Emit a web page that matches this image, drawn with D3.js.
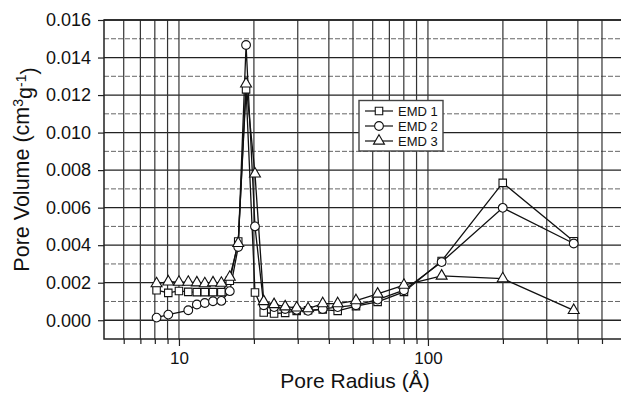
<!DOCTYPE html>
<html>
<head>
<meta charset="utf-8">
<script src="https://cdn.jsdelivr.net/npm/d3@7"></script>
<style>
  html, body { margin: 0; padding: 0; background: #fff; }
  svg { display: block; font-family: "Liberation Sans", Arial, Helvetica, sans-serif; }
</style>
</head>
<body>
<svg id="chart" width="621" height="395"></svg>
<script>
// Pore size distribution (BJH) for three EMD samples
const radius = [8.13, 9.06, 10.0, 10.9, 11.8, 12.7, 13.7, 14.8, 16.0, 17.3, 18.6, 20.2, 21.9, 24.1, 26.7, 29.7, 33.0, 37.8, 43.4, 51.4, 62.8, 80.1, 113.5, 199.7, 385];
const emd1 = [0.0016, 0.00146, 0.00156, 0.00151, 0.0015, 0.0015, 0.0015, 0.0015, 0.0021, 0.0042, 0.0123, 0.00148, 0.00041, 0.00036, 0.00039, 0.0005, 0.00053, 0.00057, 0.0005, 0.00075, 0.00098, 0.00151, 0.00316, 0.00732, 0.00421];
const emd2 = [0.00014, 0.0003, null, 0.00053, 0.00084, 0.00092, 0.00101, 0.00103, 0.00155, 0.0039, 0.01467, 0.0050, 0.0008, 0.0007, 0.0006, 0.00055, 0.0005, 0.0006, 0.0007, 0.0008, 0.0011, 0.0016, 0.0031, 0.00599, 0.00409];
const emd3 = [0.00195, 0.00205, 0.00203, 0.00203, 0.002, 0.00195, 0.002, 0.00198, 0.0023, 0.0041, 0.0126, 0.0078, 0.0010, 0.00084, 0.00072, 0.00066, 0.00062, 0.00089, 0.00089, 0.00105, 0.0014, 0.00187, 0.00236, 0.00222, 0.00053];
const seriesNames = ["EMD 1", "EMD 2", "EMD 3"];
const seriesSymbols = [d3.symbolSquare, d3.symbolCircle, d3.symbolTriangle];

const xTickValues = [10, 100];
const xGridValues = [6, 7, 8, 9, 10, 20, 30, 40, 50, 60, 70, 80, 90, 100, 200, 300, 400, 500];
const yTickValues = [0, 0.002, 0.004, 0.006, 0.008, 0.010, 0.012, 0.014, 0.016];
const yMinorValues = [0.001, 0.003, 0.005, 0.007, 0.009, 0.011, 0.013, 0.015];

const svg = d3.select("#chart");
const x = d3.scaleLog().domain([5, 600]).range([104, 621.7]);
const y = d3.scaleLinear().domain([-0.001, 0.016]).range([339, 20]);
const plotLeft = x.range()[0], plotRight = x.range()[1];
const plotTop = y.range()[1], plotBottom = y.range()[0];

// grid
const grid = svg.append("g");
grid.selectAll("line.hmin").data(yMinorValues).join("line")
  .attr("x1", plotLeft).attr("x2", plotRight)
  .attr("y1", d => y(d)).attr("y2", d => y(d))
  .attr("stroke", "#666").attr("stroke-width", 1).attr("stroke-dasharray", "5,2");
grid.selectAll("line.hmaj").data(yTickValues).join("line")
  .attr("x1", plotLeft).attr("x2", plotRight)
  .attr("y1", d => y(d)).attr("y2", d => y(d))
  .attr("stroke", "#222").attr("stroke-width", 1.3);
grid.selectAll("line.v").data(xGridValues).join("line")
  .attr("x1", d => x(d)).attr("x2", d => x(d))
  .attr("y1", plotTop).attr("y2", plotBottom)
  .attr("stroke", "#333").attr("stroke-width", 1.2);

// axes
const yAxis = d3.axisLeft(y).tickValues(yTickValues).tickFormat(d3.format(".3f")).tickSize(6).tickPadding(7);
const gy = svg.append("g").attr("transform", `translate(${plotLeft},0)`).call(yAxis);
const xAxis = d3.axisBottom(x).tickValues(xGridValues).tickSize(5).tickPadding(8)
  .tickFormat(d => xTickValues.includes(d) ? d3.format("d")(d) : "");
const gx = svg.append("g").attr("transform", `translate(0,${plotBottom})`).call(xAxis);
[gx, gy].forEach(g => {
  g.select(".domain").remove();
  g.selectAll(".tick line").attr("stroke", "#222").attr("stroke-width", 1.2);
  g.selectAll(".tick text").attr("fill", "#111").style("font-size", "17px");
});
gy.selectAll(".tick text").style("font-size", "18px");
gx.selectAll(".tick line").attr("y2", d => xTickValues.includes(d) ? 7 : 5);

// frame
svg.append("path")
  .attr("d", `M${plotRight},${plotTop}H${plotLeft}V${plotBottom}H${plotRight}`)
  .attr("fill", "none").attr("stroke", "#222").attr("stroke-width", 1.5);

// data
const series = [emd1, emd2, emd3].map((vals, i) => ({
  name: seriesNames[i],
  symbol: seriesSymbols[i],
  points: radius.map((r, j) => ({ r, v: vals[j] })).filter(p => p.v != null)
}));

const line = d3.line().x(p => x(p.r)).y(p => y(p.v));
const plot = svg.append("g");
plot.selectAll("path.series").data(series).join("path")
  .attr("d", s => line(s.points))
  .attr("fill", "none").attr("stroke", "#111").attr("stroke-width", 1.3);

const symSize = [56, 60, 52];
series.forEach((s, i) => {
  plot.append("g").selectAll("path").data(s.points).join("path")
    .attr("transform", p => `translate(${x(p.r)},${y(p.v)})`)
    .attr("d", d3.symbol().type(s.symbol).size(symSize[i]))
    .attr("fill", "#fff").attr("stroke", "#111").attr("stroke-width", 1.1);
});

// legend
const lg = svg.append("g").attr("transform", "translate(359,100.5)");
lg.append("rect").attr("width", 84).attr("height", 50.5)
  .attr("fill", "#fff").attr("stroke", "#444").attr("stroke-width", 1.4);
series.forEach((s, i) => {
  const row = lg.append("g").attr("transform", `translate(0,${10.5 + i * 15})`);
  row.append("line").attr("x1", 6).attr("x2", 34).attr("stroke", "#111").attr("stroke-width", 1.2);
  row.append("path").attr("transform", "translate(20,0)")
    .attr("d", d3.symbol().type(s.symbol).size(symSize[i]))
    .attr("fill", "#fff").attr("stroke", "#111").attr("stroke-width", 1.1);
  row.append("text").attr("x", 39).attr("dy", "0.36em")
    .style("font-size", "13px").attr("fill", "#111").text(s.name);
});

// axis titles
svg.append("text")
  .attr("x", 355).attr("y", 388)
  .attr("text-anchor", "middle").style("font-size", "21px").attr("fill", "#111")
  .text("Pore Radius (Å)");

const yt = svg.append("text")
  .attr("transform", `translate(29,${(plotTop + plotBottom) / 2 - 10}) rotate(-90)`)
  .attr("text-anchor", "middle").style("font-size", "21.5px").attr("fill", "#111");
yt.append("tspan").text("Pore Volume (cm");
yt.append("tspan").attr("dy", "-0.45em").style("font-size", "14px").text("3");
yt.append("tspan").attr("dy", "0.45em").text("g");
yt.append("tspan").attr("dy", "-0.45em").style("font-size", "14px").text("-1");
yt.append("tspan").attr("dy", "0.45em").text(")");
</script>
</body>
</html>
